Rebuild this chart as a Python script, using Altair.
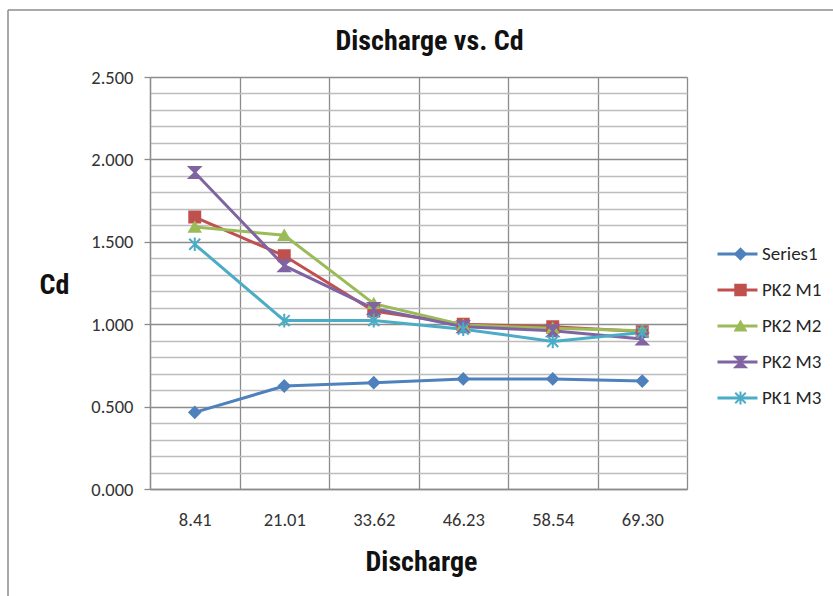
import json
import altair as alt
import pandas as pd

# Category labels on the x axis (discharge values)
discharge = ["8.41", "21.01", "33.62", "46.23", "58.54", "69.30"]

# Cd values for each series, one per discharge category
series_names = ["Series1", "PK2 M1", "PK2 M2", "PK2 M3", "PK1 M3"]
series1 = [0.465, 0.625, 0.645, 0.668, 0.668, 0.655]
pk2_m1 = [1.650, 1.415, 1.080, 1.000, 0.985, 0.955]
pk2_m2 = [1.590, 1.540, 1.125, 0.995, 0.975, 0.960]
pk2_m3 = [1.920, 1.355, 1.095, 0.985, 0.960, 0.910]
pk1_m3 = [1.485, 1.022, 1.022, 0.970, 0.895, 0.950]

colors = ["#4F81BD", "#C0504D", "#9BBB59", "#8064A2", "#4BACC6"]
shapes = [
    "diamond",
    "square",
    "triangle-up",
    "M-1,-1L1,-1L-1,1L1,1Z",                    # hourglass
    "M-1,-1L1,1M1,-1L-1,1M0,-1.25L0,1.25",      # asterisk
]

rows = []
for name, vals in zip(series_names, [series1, pk2_m1, pk2_m2, pk2_m3, pk1_m3]):
    for i, v in enumerate(vals):
        rows.append({"idx": i, "series": name, "marker": name, "cd": v})
df = pd.DataFrame(rows)

W, H = 537, 412
PAD_L, PAD_T = 150, 77

LABEL_FONT = "Carlito, Lato, Liberation Sans, sans-serif"
TITLE_FONT = "Liberation Sans Narrow, Roboto Condensed, Liberation Sans, sans-serif"

x_vals = [k / 2 - 0.5 for k in range(2 * len(discharge) + 1)]
y_vals = [k / 10 for k in range(26)]
major = "round(datum.value*10) % 5 == 0"

x = alt.X(
    "idx:Q",
    scale=alt.Scale(domain=[-0.5, len(discharge) - 0.5], nice=False, zero=False),
    axis=alt.Axis(
        values=x_vals,
        labelExpr=f"datum.value % 1 == 0 ? {json.dumps(discharge)}[datum.value] : ''",
        labelOverlap=False,
        labelFlush=False,
        ticks=False,
        grid=True,
        gridColor="#8c8c8c",
        gridWidth=1.3,
        gridOpacity={"condition": {"test": "datum.value % 1 != 0", "value": 1}, "value": 0},
        domainColor="#8c8c8c",
        domainWidth=1.3,
        labelFont=LABEL_FONT,
        labelFontSize=18.5,
        labelColor="#333333",
        labelPadding=21,
        title="Discharge",
        titleFont=TITLE_FONT,
        titleFontSize=28,
        titleFontWeight="bold",
        titleColor="#111111",
        titleX=271,
        titleY=73,
        titleBaseline="middle",
        titleAlign="center",
    ),
)

y = alt.Y(
    "cd:Q",
    scale=alt.Scale(domain=[0, 2.5], nice=False),
    axis=alt.Axis(
        values=y_vals,
        format=".3f",
        labelExpr=f"{major} ? datum.label : ''",
        labelOverlap=False,
        labelFlush=False,
        tickSize=6,
        tickColor="#8c8c8c",
        tickWidth=1.3,
        tickOpacity={"condition": {"test": major, "value": 1}, "value": 0},
        grid=True,
        gridWidth=1.3,
        gridColor={"condition": {"test": major, "value": "#8c8c8c"}, "value": "#bdbdbd"},
        domainColor="#8c8c8c",
        domainWidth=1.3,
        labelFont=LABEL_FONT,
        labelFontSize=18.5,
        labelColor="#333333",
        labelPadding=11,
        title="Cd",
        titleFont=TITLE_FONT,
        titleFontSize=28,
        titleFontWeight="bold",
        titleColor="#111111",
        titleAngle=0,
        titleX=-96,
        titleY=208,
        titleAlign="center",
        titleBaseline="middle",
    ),
)

legend_common = dict(
    orient="none",
    title=None,
    clipHeight=20,
    rowPadding=16,
    legendY=167,
    labelFont=LABEL_FONT,
    labelFontSize=19,
    labelColor="#262626",
)

lines = alt.Chart(df).mark_line(strokeWidth=3).encode(
    x=x,
    y=y,
    color=alt.Color(
        "series:N",
        scale=alt.Scale(domain=series_names, range=colors),
        legend=alt.Legend(
            symbolType="stroke",
            symbolSize=1600,
            symbolStrokeWidth=3,
            labelOffset=3,
            legendX=566,
            **legend_common,
        ),
    ),
    detail="series:N",
)

marker_legend = alt.Legend(
    symbolSize=110,
    symbolStrokeWidth=2,
    labelExpr="''",
    legendX=581,
    **legend_common,
)

points = alt.Chart(df).mark_point(size=120, strokeWidth=2, opacity=1).encode(
    x=x,
    y=y,
    fill=alt.Fill("marker:N", scale=alt.Scale(domain=series_names, range=colors), legend=marker_legend),
    stroke=alt.Stroke("marker:N", scale=alt.Scale(domain=series_names, range=colors), legend=marker_legend),
    shape=alt.Shape("marker:N", scale=alt.Scale(domain=series_names, range=shapes), legend=marker_legend),
)

# Outer chart frame (left and top edges)
frame_data = alt.Data(values=[{"f": 1}])
frame_left = alt.Chart(frame_data).mark_rule(color="#8c8c8c", strokeWidth=1.5).encode(
    x=alt.value(8 - PAD_L), y=alt.value(10 - PAD_T), y2=alt.value(596 - PAD_T)
)
frame_top = alt.Chart(frame_data).mark_rule(color="#8c8c8c", strokeWidth=1.5).encode(
    x=alt.value(8 - PAD_L), x2=alt.value(833 - PAD_L), y=alt.value(10 - PAD_T)
)

chart = (
    alt.layer(frame_left, frame_top, lines, points)
    .resolve_scale(color="independent", fill="independent", stroke="independent", shape="independent")
    .properties(
        width=W,
        height=H,
        autosize=alt.AutoSizeParams(type="none"),
        padding={"left": PAD_L, "top": PAD_T, "right": 833 - PAD_L - W, "bottom": 596 - PAD_T - H},
        background="white",
        title=alt.Title(
            "Discharge vs. Cd",
            font=TITLE_FONT,
            fontSize=28,
            fontWeight="bold",
            color="#111111",
            anchor="middle",
            baseline="bottom",
            dx=11,
            offset=-75,
        ),
    )
    .configure_view(stroke=None)
)

chart.save("out.html", embed_options={"renderer": "svg", "actions": False})
